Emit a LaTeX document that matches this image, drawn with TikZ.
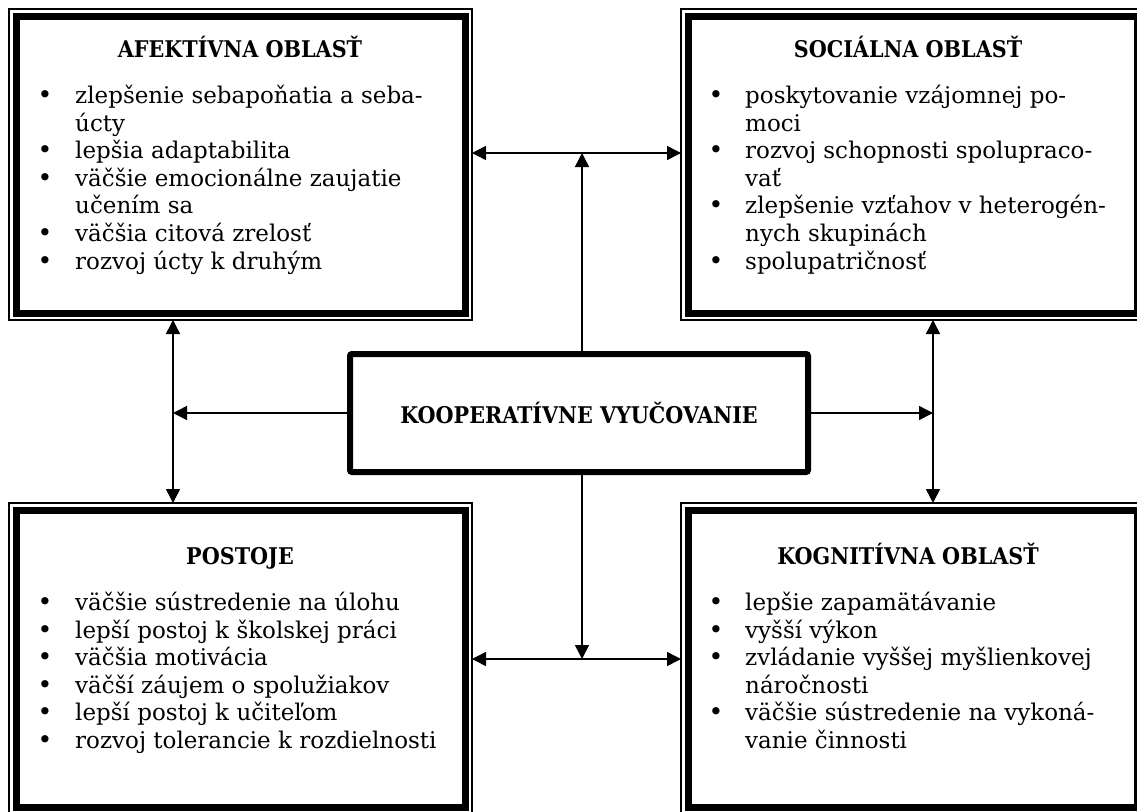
\documentclass[tikz,border=0pt]{standalone}
\usepackage{fontspec}
\setmainfont{DejaVu Serif}
\newfontfamily\condfont{DejaVu Serif Condensed}
\usetikzlibrary{arrows.meta}
\begin{document}
\begin{tikzpicture}[x=1pt,y=-1pt,
  >={Triangle[length=14pt,width=14pt]},
  outerbox/.style={draw, line width=1.2pt, rectangle, minimum width=463pt, minimum height=311pt, inner sep=0pt, outer sep=0pt},
  thickframe/.style={line width=7pt},
  coopbox/.style={draw, line width=6pt, rounded corners=2pt, minimum width=458pt, minimum height=118pt, inner sep=0pt, outer sep=0pt, font=\condfont\fontsize{23}{27}\selectfont\bfseries},
  txt/.style={anchor=base west, inner sep=0pt, font=\fontsize{23}{27}\selectfont},
  bul/.style={anchor=base, inner sep=0pt, font=\fontsize{25}{27}\selectfont},
  ttl/.style={anchor=base, inner sep=0pt, font=\condfont\fontsize{23}{27}\selectfont\bfseries},
  arr/.style={line width=1.5pt}]
\useasboundingbox (0,0) rectangle (1137,811);
\fill[white] (0,0) rectangle (1137,811);

% boxes
\node[outerbox] (aff) at (240.5,164.5) {};
\node[outerbox] (soc) at (912.5,164.5) {};
\node[outerbox] (post) at (240.5,658.5) {};
\node[outerbox] (kog) at (912.5,658.5) {};
\foreach \n in {aff,soc,post,kog}
  \draw[thickframe] ([xshift=7pt,yshift=-7pt]\n.north west) rectangle ([xshift=-7pt,yshift=7pt]\n.south east);

\node[coopbox] (coop) at (579,413) {KOOPERATÍVNE VYUČOVANIE};

% titles
\node[ttl] (t1) at (240,57) {AFEKTÍVNA OBLASŤ};
\node[ttl] (t2) at (908,57) {SOCIÁLNA OBLASŤ};
\node[ttl] (t3) at (240,564) {POSTOJE};
\node[ttl] (t4) at (908,564) {KOGNITÍVNA OBLASŤ};

% items
\foreach [count=\i] \b/\t in {1/zlepšenie sebapoňatia a seba-, 0/úcty, 1/lepšia adaptabilita, 1/väčšie emocionálne zaujatie, 0/učením sa, 1/väčšia citová zrelosť, 1/rozvoj úcty k druhým} {
  \node[txt] (A\i) at (75,{103.5+27.6*(\i-1)}) {\t};
  \ifnum\b=1 \node[bul] (Ab\i) at (45,{103.5+27.6*(\i-1)}) {•};\fi
}
\foreach [count=\i] \b/\t in {1/poskytovanie vzájomnej po-, 0/moci, 1/rozvoj schopnosti spolupraco-, 0/vať, 1/zlepšenie vzťahov v heterogén-, 0/nych skupinách, 1/spolupatričnosť} {
  \node[txt] (S\i) at (745,{103.5+27.6*(\i-1)}) {\t};
  \ifnum\b=1 \node[bul] (Sb\i) at (716,{103.5+27.6*(\i-1)}) {•};\fi
}
\foreach [count=\i] \b/\t in {1/väčšie sústredenie na úlohu, 1/lepší postoj k školskej práci, 1/väčšia motivácia, 1/väčší záujem o spolužiakov, 1/lepší postoj k učiteľom, 1/rozvoj tolerancie k rozdielnosti} {
  \node[txt] (P\i) at (75,{610.5+27.6*(\i-1)}) {\t};
  \ifnum\b=1 \node[bul] (Pb\i) at (45,{610.5+27.6*(\i-1)}) {•};\fi
}
\foreach [count=\i] \b/\t in {1/lepšie zapamätávanie, 1/vyšší výkon, 1/zvládanie vyššej myšlienkovej, 0/náročnosti, 1/väčšie sústredenie na vykoná-, 0/vanie činnosti} {
  \node[txt] (K\i) at (745,{610.5+27.6*(\i-1)}) {\t};
  \ifnum\b=1 \node[bul] (Kb\i) at (716,{610.5+27.6*(\i-1)}) {•};\fi
}

% connectors
\coordinate (top) at (582,153);
\coordinate (bot) at (582,659);
\coordinate (lv) at (173,413);
\coordinate (rv) at (933,413);
\draw[arr,<->] (aff.east |- top) -- (soc.west |- top);
\draw[arr,->] (coop.north -| top) -- (top);
\draw[arr,<->] (post.east |- bot) -- (kog.west |- bot);
\draw[arr,->] (coop.south -| bot) -- (bot);
\draw[arr,<->] (aff.south -| lv) -- (post.north -| lv);
\draw[arr,->] (coop.west) -- (lv);
\draw[arr,<->] (soc.south -| rv) -- (kog.north -| rv);
\draw[arr,->] (coop.east) -- (rv);
\end{tikzpicture}
\end{document}
